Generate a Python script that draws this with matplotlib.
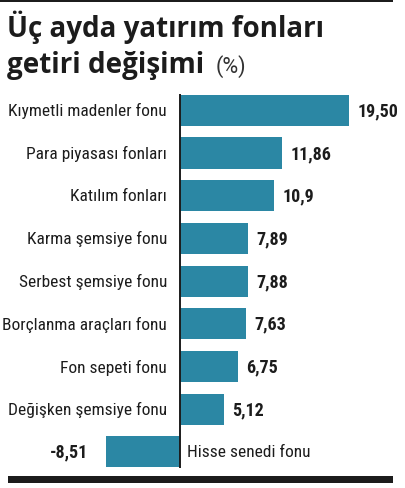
import matplotlib
matplotlib.use("Agg")
import matplotlib.pyplot as plt
from matplotlib.patches import Rectangle
from matplotlib import font_manager as fm

categories = ["Kıymetli madenler fonu", "Para piyasası fonları", "Katılım fonları",
              "Karma şemsiye fonu", "Serbest şemsiye fonu", "Borçlanma araçları fonu",
              "Fon sepeti fonu", "Değişken şemsiye fonu", "Hisse senedi fonu"]
values = [19.50, 11.86, 10.9, 7.89, 7.88, 7.63, 6.75, 5.12, -8.51]
value_labels = ["19,50", "11,86", "10,9", "7,89", "7,88", "7,63", "6,75", "5,12", "-8,51"]
title_line1 = "Üç ayda yatırım fonları"
title_line2 = "getiri değişimi"
title_unit = "(%)"

names = {f.name for f in fm.fontManager.ttflist}
cond = None
for cand in ["Liberation Sans Narrow", "Roboto Condensed", "Open Sans Condensed", "DejaVu Sans"]:
    if cand in names:
        cond = cand
        break

BAR = "#2b87a4"
TXT = "#1c1c1c"
W, H = 405, 489
fig = plt.figure(figsize=(W / 100, H / 100), dpi=100)
fig.patch.set_facecolor("white")

def fx(px):
    return px / W

def fy(py):
    return 1 - py / H

# axes region
px_per_unit = 8.67
zero_px = 179.5
top_px, bot_px = 95, 468.5
c0, pitch = 111.3, 42.7
ax = fig.add_axes([0, fy(bot_px), 1, (bot_px - top_px) / H])
ax.set_xlim(-zero_px / px_per_unit, (W - zero_px) / px_per_unit)
ax.set_ylim((bot_px - c0) / pitch, (top_px - c0) / pitch)
ax.axis("off")

ypos = list(range(len(values)))
ax.barh(ypos, values, height=0.73, color=BAR, linewidth=0)
ax.axvline(0, color=TXT, lw=1.4)

fs = 12.5
for y, v, cat, lab in zip(ypos, values, categories, value_labels):
    if v >= 0:
        ax.text(-12.5 / px_per_unit, y, cat, ha="right", va="center", fontsize=fs,
                family=cond, color=TXT)
        ax.text(v + 8.5 / px_per_unit, y, lab, ha="left", va="center", fontsize=fs + 0.5,
                family=cond, weight="bold", color=TXT)
    else:
        ax.text(7 / px_per_unit, y, cat, ha="left", va="center", fontsize=fs,
                family=cond, color=TXT)
        ax.text(v - 18 / px_per_unit, y, lab, ha="right", va="center", fontsize=fs + 0.5,
                family=cond, weight="bold", color=TXT)

# title
fig.text(fx(7), fy(37), title_line1, fontsize=20, weight="bold",
         family="Open Sans", color=TXT, va="baseline", ha="left")
fig.text(fx(7), fy(73), title_line2, fontsize=20, weight="bold",
         family="Open Sans", color=TXT, va="baseline", ha="left")
fig.text(fx(216), fy(73), title_unit, fontsize=15.5, weight="normal",
         family="Roboto", color="#333333", va="baseline", ha="left")

# decorative rules
fig.add_artist(Rectangle((0, fy(2.8)), fx(393), 2.8 / H, transform=fig.transFigure,
                         color=TXT, lw=0))
fig.add_artist(Rectangle((fx(8), fy(484)), fx(385), 7.3 / H, transform=fig.transFigure,
                         color=TXT, lw=0))

fig.savefig("out.png", dpi=100, facecolor="white")
